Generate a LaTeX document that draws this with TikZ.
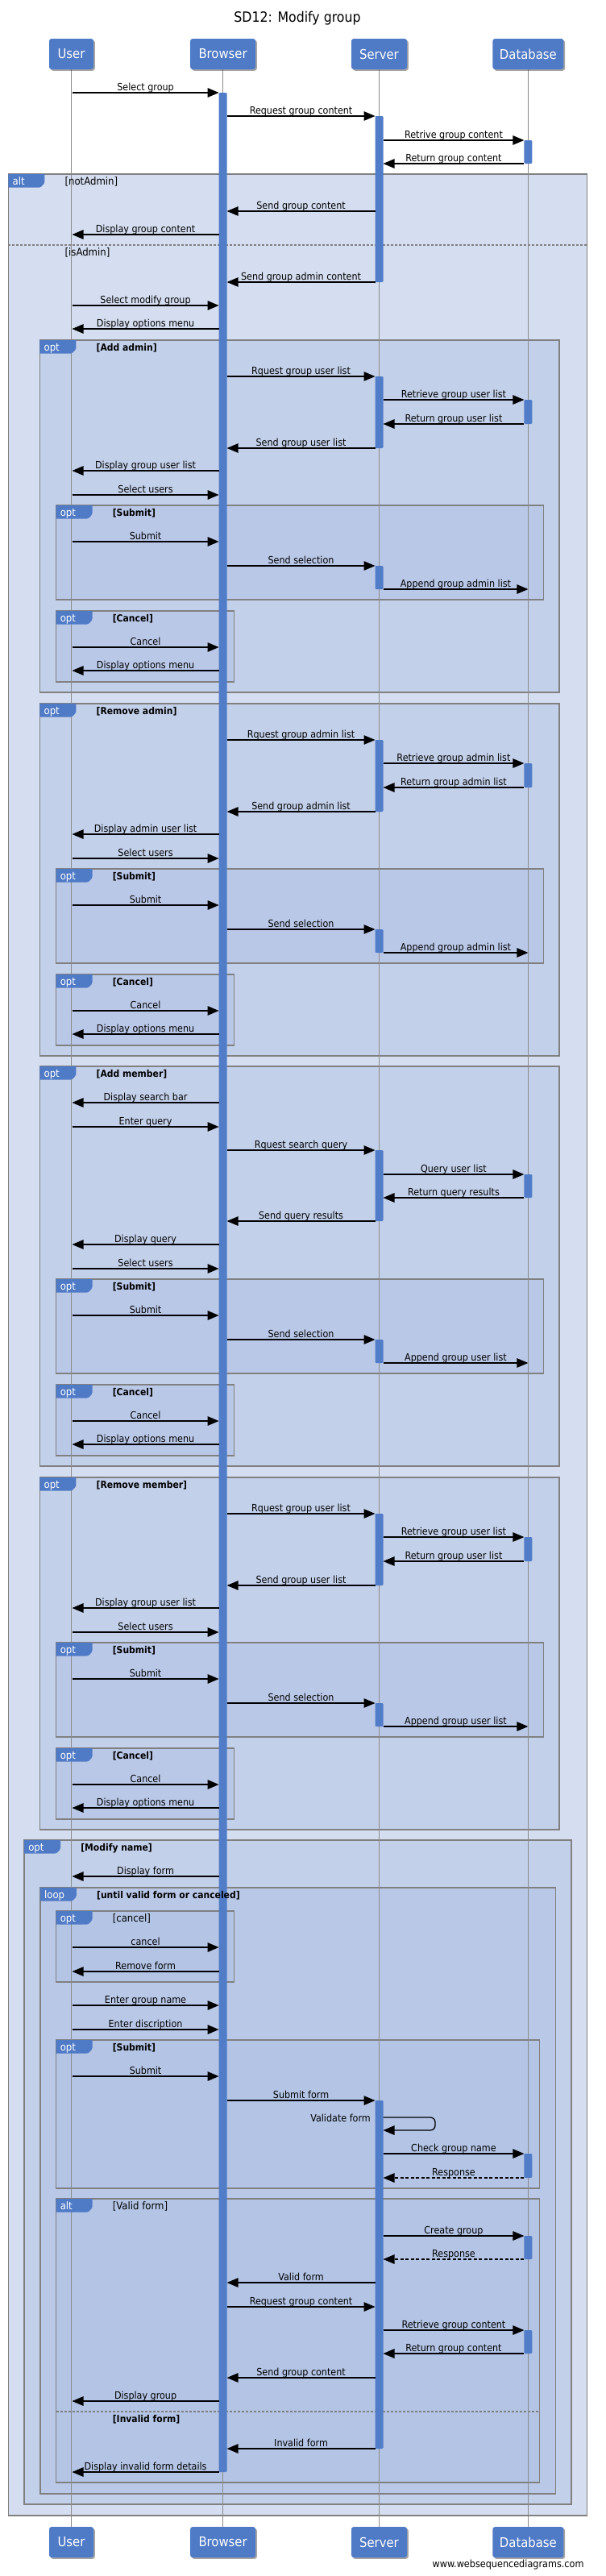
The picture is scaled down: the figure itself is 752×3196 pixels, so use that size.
\documentclass[tikz,border=0pt]{standalone}
\usepackage{fontspec}
\setmainfont{DejaVu Sans}[FakeStretch=0.9]
\usetikzlibrary{arrows.meta,shadows}
\pgfdeclarelayer{bg}
\pgfdeclarelayer{frames}
\pgfdeclarelayer{lifelayer}
\pgfsetlayers{bg,frames,lifelayer,main}
\definecolor{pblue}{RGB}{79,122,198}
\definecolor{abar}{RGB}{80,124,200}
\definecolor{lone}{RGB}{213,222,240}
\definecolor{ltwo}{RGB}{195,208,234}
\definecolor{lthree}{RGB}{186,200,232}
\definecolor{lfour}{RGB}{179,196,229}
\definecolor{fgray}{RGB}{128,128,128}
\definecolor{lgray}{RGB}{138,138,138}
\newcounter{nn}
\newcommand\fsz[1]{\fontsize{#1}{#1}\selectfont}
\tikzset{
  part/.style={fill=pblue, rounded corners=3pt, text=white, font=\fsz{16.5}, minimum height=38pt, inner sep=0pt,
    drop shadow={shadow xshift=1.8pt, shadow yshift=-1.8pt, fill=black!70, opacity=0.5}},
  frmbox/.style={draw=fgray, line width=1.3pt},
  sepdash/.style={draw=fgray, line width=1.2pt, dash pattern=on 3pt off 2pt},
  lifeln/.style={draw=lgray, line width=1.1pt},
  msgline/.style={draw=black, line width=1.3pt, -{Triangle[length=14pt,width=11.5pt]}},
  resp/.style={dash pattern=on 4pt off 2.5pt},
  lbl/.style={anchor=base, inner sep=0pt, font=\fsz{12.4}},
  tabtxt/.style={anchor=base west, inner sep=0pt, text=white, font=\fsz{13}},
  guardb/.style={anchor=base west, inner sep=0pt, font=\bfseries\fsz{12}},
  guardr/.style={anchor=base west, inner sep=0pt, font=\fsz{13}},
  actbar/.style={fill=abar, rounded corners=1.2pt},
}
\def\xU{88.5}\def\xB{276.6}\def\xS{470.5}\def\xD{655.4}
\def\Ue{89.5}\def\Bl{271.6}\def\Br{281.6}\def\Sl{465.5}\def\Sr{475.5}\def\Dl{650.4}\def\Dx{655.4}
% frame: x1 y1 x2 y2 fill tab guardstyle guard
\newcommand\frm[8]{%
  \begin{pgfonlayer}{frames}
    \path[frmbox, fill=#5] (#1,#2) rectangle (#3,#4);
  \end{pgfonlayer}
  \stepcounter{nn}%
  \fill[pblue] (#1,#2) -- ({#1+45},#2) [rounded corners=1.5pt] -- ({#1+45},{#2+11}) -- ({#1+40},{#2+16.5}) [sharp corners] -- (#1,{#2+16.5}) -- cycle;
  \node[tabtxt] (tab\arabic{nn}) at ({#1+5},{#2+13}) {#6};
  \node[#7] (grd\arabic{nn}) at ({#1+70},{#2+13}) {#8};
}
% separator: x1 x2 y style label
\newcommand\sepln[5]{%
  \begin{pgfonlayer}{frames}\draw[sepdash] (#1,#3) -- (#2,#3);\end{pgfonlayer}
  \stepcounter{nn}%
  \node[#4] (sg\arabic{nn}) at ({#1+70},{#3+13}) {#5};
}
% message: [style] y x1 x2 label
\newcommand\mymsg[5][]{%
  \stepcounter{nn}%
  \coordinate (ma\arabic{nn}) at (#3,#2);
  \coordinate (mb\arabic{nn}) at (#4,#2);
  \draw[msgline,#1] (ma\arabic{nn}) -- (mb\arabic{nn});
  \node[lbl] (ml\arabic{nn}) at ({(#3+#4)/2},{#2-2.5}) {#5};
}
\newcommand\actb[3]{\fill[actbar] ({#1-5},#2) rectangle ({#1+5},#3);}
\newcommand\listhead[7]{%
  \frm{49.4}{422+#1}{694}{859+#1}{ltwo}{opt}{guardb}{#2}
  \actb{\xS}{467+#1}{556+#1}
  \actb{\xD}{496+#1}{526+#1}
  \mymsg{467+#1}{\Br}{\Sl}{#3}
  \mymsg{496+#1}{\Sr}{\Dl}{#4}
  \mymsg{526+#1}{\Dl}{\Sr}{#5}
  \mymsg{556+#1}{\Sl}{\Br}{#6}
  \mymsg{584+#1}{\Bl}{\Ue}{#7}
}
\newcommand\tailpart[2]{%
  \mymsg{614+#1}{\Ue}{\Bl}{Select users}
  \frm{69.6}{627+#1}{674.2}{744+#1}{lthree}{opt}{guardb}{[Submit]}
  \mymsg{672+#1}{\Ue}{\Bl}{Submit}
  \actb{\xS}{702+#1}{731+#1}
  \mymsg{702+#1}{\Br}{\Sl}{Send selection}
  \mymsg{731+#1}{\Sr}{\Dx}{#2}
  \frm{69.6}{758+#1}{290.8}{846+#1}{lthree}{opt}{guardb}{[Cancel]}
  \mymsg{803+#1}{\Ue}{\Bl}{Cancel}
  \mymsg{832+#1}{\Bl}{\Ue}{Display options menu}
}
\begin{document}
\begin{tikzpicture}[x=1pt,y=-1pt]
\begin{pgfonlayer}{bg}
\fill[white] (0,0) rectangle (752,3196);
\end{pgfonlayer}
\useasboundingbox (0,0) rectangle (752,3196);
\node[anchor=base, font=\fsz{17.5}] (title) at (369,27.5) {SD12: Modify group};
% participants
\node[part, minimum width=55pt] (Ut) at (\xU,67) {User};
\node[part, minimum width=81pt] (Bt) at (\xB,67) {Browser};
\node[part, minimum width=69pt] (St) at (\xS,67) {Server};
\node[part, minimum width=88pt] (Dt) at (\xD,67) {Database};
\node[part, minimum width=55pt] (Ub) at (\xU,3154) {User};
\node[part, minimum width=81pt] (Bb) at (\xB,3154) {Browser};
\node[part, minimum width=69pt] (Sb) at (\xS,3154) {Server};
\node[part, minimum width=88pt] (Db) at (\xD,3154) {Database};
\begin{pgfonlayer}{lifelayer}
  \draw[lifeln] (Ut.south) -- (Ub.north);
  \draw[lifeln] (Bt.south) -- (Bb.north);
  \draw[lifeln] (St.south) -- (Sb.north);
  \draw[lifeln] (Dt.south) -- (Db.north);
\end{pgfonlayer}
\node[anchor=base east, font=\fsz{12.5}] (wm) at (728,3185.5) {www.websequencediagrams.com};
% outer alt
\frm{10.4}{216}{728.3}{3121}{lone}{alt}{guardr}{[notAdmin]}
\sepln{10.4}{728.3}{304}{guardr}{[isAdmin]}
% activations of the header
\actb{\xB}{115}{3067}
\actb{\xS}{144}{350}
\actb{\xD}{174}{203}
\mymsg{115}{\Ue}{\Bl}{Select group}
\mymsg{144}{\Br}{\Sl}{Request group content}
\mymsg{174}{\Sr}{\Dl}{Retrive group content}
\mymsg{203}{\Dl}{\Sr}{Return group content}
\mymsg{262}{\Sl}{\Br}{Send group content}
\mymsg{291}{\Bl}{\Ue}{Display group content}
\mymsg{350}{\Sl}{\Br}{Send group admin content}
\mymsg{379}{\Ue}{\Bl}{Select modify group}
\mymsg{408}{\Bl}{\Ue}{Display options menu}
% Add admin
\listhead{0}{[Add admin]}{Rquest group user list}{Retrieve group user list}{Return group user list}{Send group user list}{Display group user list}
\tailpart{0}{Append group admin list}
% Remove admin
\listhead{451}{[Remove admin]}{Rquest group admin list}{Retrieve group admin list}{Return group admin list}{Send group admin list}{Display admin user list}
\tailpart{451}{Append group admin list}
% Add member
\frm{49.4}{1323}{694}{1819}{ltwo}{opt}{guardb}{[Add member]}
\mymsg{1368}{\Bl}{\Ue}{Display search bar}
\mymsg{1398}{\Ue}{\Bl}{Enter query}
\actb{\xS}{1427}{1515}
\actb{\xD}{1457}{1486}
\mymsg{1427}{\Br}{\Sl}{Rquest search query}
\mymsg{1457}{\Sr}{\Dl}{Query user list}
\mymsg{1486}{\Dl}{\Sr}{Return query results}
\mymsg{1515}{\Sl}{\Br}{Send query results}
\mymsg{1544}{\Bl}{\Ue}{Display query}
\tailpart{960}{Append group user list}
% Remove member
\listhead{1411}{[Remove member]}{Rquest group user list}{Retrieve group user list}{Return group user list}{Send group user list}{Display group user list}
\tailpart{1411}{Append group user list}
% Modify name
\frm{30.1}{2283}{709}{3107}{ltwo}{opt}{guardb}{[Modify name]}
\mymsg{2328}{\Bl}{\Ue}{Display form}
\frm{49.9}{2342}{689.3}{3094}{lthree}{loop}{guardb}{[until valid form or canceled]}
\frm{69.6}{2371}{290.8}{2459}{lfour}{opt}{guardr}{[cancel]}
\mymsg{2416}{\Ue}{\Bl}{cancel}
\mymsg{2446}{\Bl}{\Ue}{Remove form}
\mymsg{2488}{\Ue}{\Bl}{Enter group name}
\mymsg{2518}{\Ue}{\Bl}{Enter discription}
\frm{69.6}{2531}{669.5}{2715}{lfour}{opt}{guardb}{[Submit]}
\mymsg{2576}{\Ue}{\Bl}{Submit}
\actb{\xS}{2606}{3038}
\mymsg{2606}{\Br}{\Sl}{Submit form}
\coordinate (va) at (\Sr,2627);
\coordinate (vb) at (\Sr,2643);
\draw[msgline, rounded corners=6pt] (va) -- (540,2627) -- (540,2643) -- (vb);
\node[lbl, anchor=base east] (vlbl) at (460,2632) {Validate form};
\actb{\xD}{2672}{2702}
\mymsg{2672}{\Sr}{\Dl}{Check group name}
\mymsg[resp]{2702}{\Dl}{\Sr}{Response}
\frm{69.6}{2728}{669.5}{3080}{lfour}{alt}{guardr}{[Valid form]}
\actb{\xD}{2774}{2803}
\mymsg{2774}{\Sr}{\Dl}{Create group}
\mymsg[resp]{2803}{\Dl}{\Sr}{Response}
\mymsg{2832}{\Sl}{\Br}{Valid form}
\mymsg{2862}{\Br}{\Sl}{Request group content}
\actb{\xD}{2891}{2920}
\mymsg{2891}{\Sr}{\Dl}{Retrieve group content}
\mymsg{2920}{\Dl}{\Sr}{Return group content}
\mymsg{2950}{\Sl}{\Br}{Send group content}
\mymsg{2979}{\Bl}{\Ue}{Display group}
\sepln{69.6}{669.5}{2992}{guardb}{[Invalid form]}
\mymsg{3038}{\Sl}{\Br}{Invalid form}
\mymsg{3067}{\Bl}{\Ue}{Display invalid form details}
\end{tikzpicture}
\end{document}
